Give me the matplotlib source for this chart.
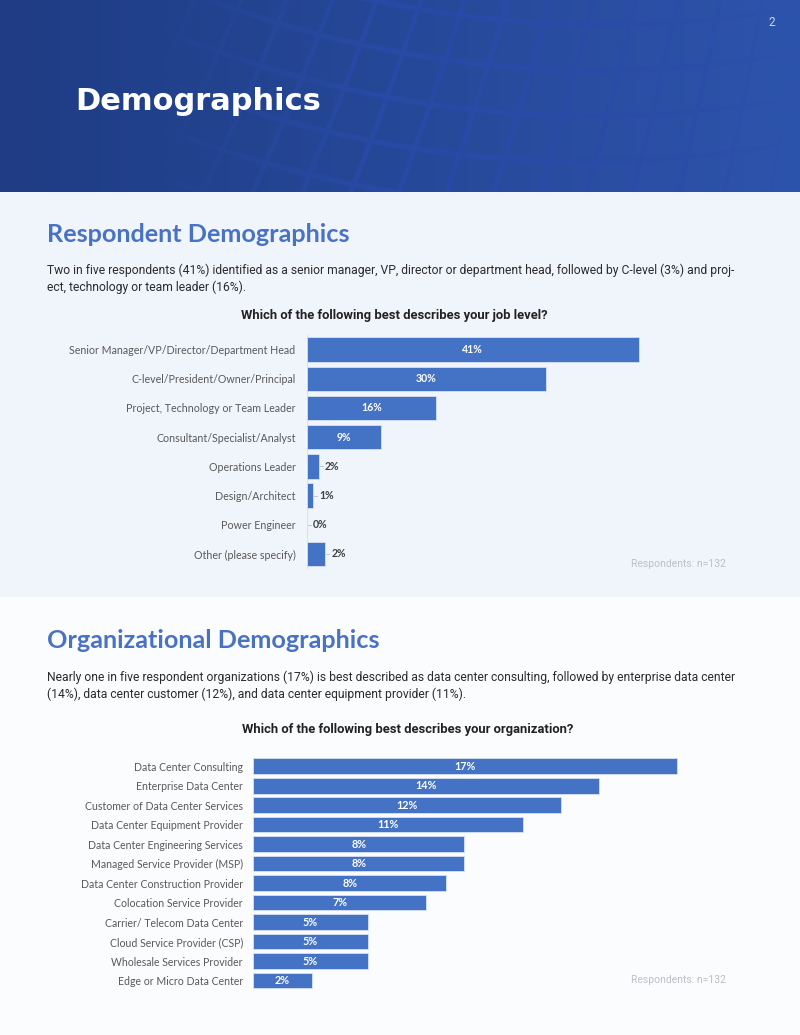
import numpy as np
import matplotlib
matplotlib.use("Agg")
from matplotlib import pyplot as plt
from matplotlib.patches import Rectangle

# ---- data ----
job_levels = ["Senior Manager/VP/Director/Department Head",
              "C-level/President/Owner/Principal",
              "Project, Technology or Team Leader",
              "Consultant/Specialist/Analyst",
              "Operations Leader",
              "Design/Architect",
              "Power Engineer",
              "Other (please specify)"]
job_values = [40.9, 29.5, 15.9, 9.1, 1.5, 0.8, 0.0, 2.3]
job_labels = ["41%", "30%", "16%", "9%", "2%", "1%", "0%", "2%"]

org_types = ["Data Center Consulting",
             "Enterprise Data Center",
             "Customer of Data Center Services",
             "Data Center Equipment Provider",
             "Data Center Engineering Services",
             "Managed Service Provider (MSP)",
             "Data Center Construction Provider",
             "Colocation Service Provider",
             "Carrier/ Telecom Data Center",
             "Cloud Service Provider (CSP)",
             "Wholesale Services Provider",
             "Edge or Micro Data Center"]
org_values = [16.7, 13.6, 12.1, 10.6, 8.3, 8.3, 7.6, 6.8, 4.5, 4.5, 4.5, 2.3]
org_labels = ["17%", "14%", "12%", "11%", "8%", "8%", "8%", "7%", "5%", "5%", "5%", "2%"]

W, H = 800, 1035
BAR = "#4472c4"
HEAD = "#4a72c4"
BODY = ["Roboto", "DejaVu Sans"]
CAL = ["Lato", "DejaVu Sans"]

fig = plt.figure(figsize=(W / 100, H / 100), dpi=100)


def fx(px):
    return px / W


def fy(py):
    return 1 - py / H


def box(x0, y0, x1, y1):
    return [fx(x0), fy(y1), (x1 - x0) / W, (y1 - y0) / H]


# ---- backgrounds ----
bg = fig.add_axes([0, 0, 1, 1])
bg.add_patch(Rectangle((0, 192), W, 405, color="#f0f4fb", zorder=0))
bg.add_patch(Rectangle((0, 597), W, H - 597, color="#fafcfe", zorder=0))

# header with a tilted grid texture
hy, hx = np.mgrid[0:192, 0:800].astype(float)
a = np.deg2rad(30 - hx / 800 * 20)
u = hx * np.cos(a) + hy * np.sin(a)
v = -hx * np.sin(a) + hy * np.cos(a)
per = 44.0
du = np.abs((u % per) - per / 2)
dv = np.abs((v % per) - per / 2)
grid = np.clip((np.maximum(du, dv) - (per / 2 - 3.5)) / 2.0, 0, 1)
fade = np.clip((hx - 160) / 220, 0, 1) * np.clip((840 - hx) / 320, 0.2, 1)
base = np.zeros((192, 800, 3))
t = hx / 800
base[..., 0] = 31 + 14 * t
base[..., 1] = 60 + 24 * t
base[..., 2] = 132 + 40 * t
line_col = np.array([42, 74, 170])
mix = (grid * fade * 0.75)[..., None]
img = base * (1 - mix) + line_col * mix
bg.imshow(img / 255, extent=(0, 800, 192, 0), aspect="auto", zorder=1)
bg.set_xlim(0, W)
bg.set_ylim(H, 0)
bg.axis("off")

fig.text(fx(75), fy(101), "Demographics", color="white", fontsize=22,
         fontweight="bold", family="DejaVu Sans", va="center", ha="left")
fig.text(fx(772), fy(23), "2", color="#c9d5f2", fontsize=8.5,
         family="Roboto", va="center", ha="center")

# ---- section 1 text ----
fig.text(fx(47), fy(235), "Respondent Demographics", color=HEAD, fontsize=18.2,
         fontweight="bold", family="Lato", va="center")
fig.text(fx(47), fy(270),
         "Two in five respondents (41%) identified as a senior manager, VP, director or department head, "
         "followed by C-level (3%) and proj-",
         color="#2b2b2b", fontsize=8.75, family=BODY, va="center")
fig.text(fx(47), fy(287), "ect, technology or team leader (16%).",
         color="#2b2b2b", fontsize=8.75, family=BODY, va="center")
fig.text(fx(394), fy(316), "Which of the following best describes your job level?",
         color="#222222", fontsize=9.4, fontweight="bold", family=BODY,
         ha="center", va="center")
fig.text(fx(726), fy(564), "Respondents: n=132", color="#bcc0c6", fontsize=7.5,
         family="Roboto", ha="right", va="center")

# ---- section 2 text ----
fig.text(fx(47), fy(641), "Organizational Demographics", color=HEAD, fontsize=18.2,
         fontweight="bold", family="Lato", va="center")
fig.text(fx(47), fy(677),
         "Nearly one in five respondent organizations (17%) is best described as data center consulting, "
         "followed by enterprise data center",
         color="#2b2b2b", fontsize=8.75, family=BODY, va="center")
fig.text(fx(47), fy(694),
         "(14%), data center customer (12%), and data center equipment provider (11%).",
         color="#2b2b2b", fontsize=8.75, family=BODY, va="center")
fig.text(fx(408), fy(729), "Which of the following best describes your organization?",
         color="#222222", fontsize=9.4, fontweight="bold", family=BODY,
         ha="center", va="center")
fig.text(fx(726), fy(980), "Respondents: n=132", color="#bcc0c6", fontsize=7.5,
         family="Roboto", ha="right", va="center")


def bar_chart(ax, cats, vals, labels, height, label_size, val_size, inside_min, pad_px):
    y = np.arange(len(cats))
    ax.barh(y, vals, height=height, color=BAR, edgecolor="#d6e0f2", linewidth=0.6)
    ax.set_yticks(y)
    ax.set_yticklabels(cats, family=CAL, fontsize=label_size, color="#595959")
    ax.tick_params(axis="y", length=0, pad=pad_px)
    ax.set_xticks([])
    for s in ax.spines.values():
        s.set_visible(False)
    ax.patch.set_alpha(0)
    xmax = ax.get_xlim()[1]
    for yi, v, lab in zip(y, vals, labels):
        if v >= inside_min:
            ax.text(v / 2, yi, lab, color="white", fontsize=val_size, fontweight="bold",
                    family=CAL, ha="center", va="center")
        else:
            ax.plot([v + xmax * 0.003, v + xmax * 0.012], [yi, yi], color="#bfbfbf", lw=0.6)
            ax.text(v + xmax * 0.018, yi, lab, color="#404040", fontsize=val_size,
                    fontweight="bold", family=CAL, ha="left", va="center")


# chart 1: 8.12 px per percent, rows 29.2 px apart
ax1 = fig.add_axes(box(306.7, 349.5 - 14.6, 306.7 + 340, 554 + 14.6))
ax1.set_xlim(0, 340 / 8.12)
ax1.set_ylim(7.5, -0.5)
ax1.axvline(0, color="#dde3ec", lw=0.8, zorder=0)
bar_chart(ax1, job_levels, job_values, job_labels, 0.835, 7.7, 7.6, 5, 8)

# chart 2: 25.4 px per percent, rows 19.48 px apart
ax2 = fig.add_axes(box(253.3, 766.2 - 9.74, 253.3 + 440, 980.5 + 9.74))
ax2.set_xlim(0, 440 / 25.4)
ax2.set_ylim(11.5, -0.5)
bar_chart(ax2, org_types, org_values, org_labels, 0.806, 7.6, 7.8, 1, 7.5)

fig.savefig("out.png", dpi=100)
